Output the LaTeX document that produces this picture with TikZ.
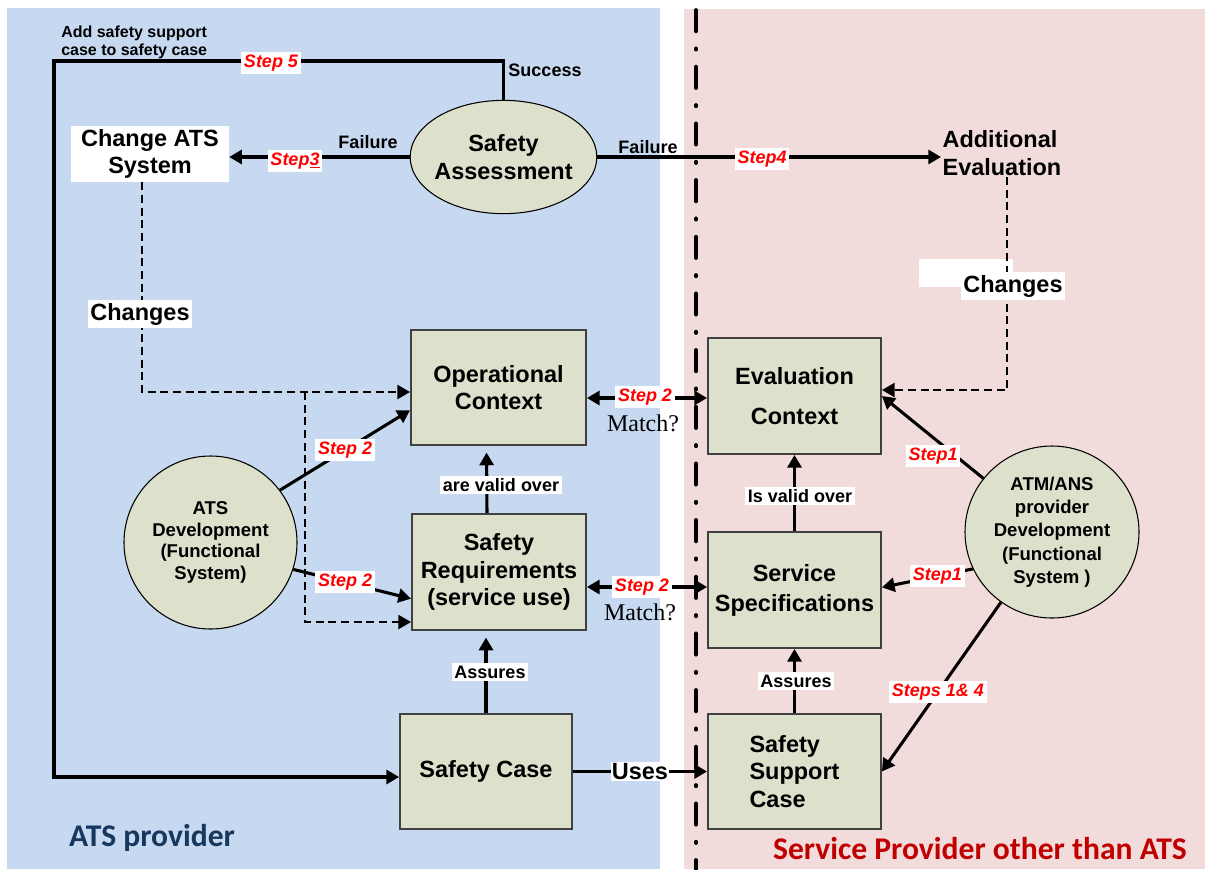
\documentclass[tikz,border=0pt]{standalone}
\usepackage{fontspec}
\setmainfont{Liberation Sans}
\newfontfamily\matchfont{Liberation Serif}
\newfontfamily\regionfont{Carlito}
\usetikzlibrary{shapes.geometric,arrows.meta}

\definecolor{atsblue}{HTML}{C6D9F0}
\definecolor{sppink}{HTML}{F2DCDB}
\definecolor{nodefill}{HTML}{DDE0CB}
\definecolor{boxline}{HTML}{404040}
\definecolor{stepred}{HTML}{FF0000}
\definecolor{atstitle}{HTML}{17375E}
\definecolor{sptitle}{HTML}{C00000}

\tikzset{
  >={Triangle[length=9.5pt,width=10.5pt]},
  bigfont/.style={font=\fontsize{17.6}{20.5}\selectfont\bfseries},
  box/.style={draw=boxline, line width=1.4pt, fill=nodefill, inner sep=0pt, align=center, bigfont},
  bubble/.style={ellipse, draw=black, line width=0.8pt, fill=nodefill, inner sep=0pt, align=center},
  conn/.style={line width=2.3pt, ->},
  dconn/.style={line width=1.6pt, dash pattern=on 6pt off 3.5pt, ->},
  steplbl/.style={fill=white, text=stepred, font=\fontsize{13.5}{15}\selectfont\bfseries\itshape, inner sep=2pt},
  smalllbl/.style={fill=white, font=\fontsize{13.5}{15}\selectfont\bfseries, inner sep=2pt},
  plainlbl/.style={font=\fontsize{13.5}{15}\selectfont\bfseries, inner sep=0pt},
  matchlbl/.style={font=\matchfont\fontsize{18}{20}\selectfont, inner sep=0pt},
  regionlbl/.style={font=\regionfont\fontsize{23.7}{26}\selectfont\bfseries, inner sep=0pt},
}

\begin{document}
\begin{tikzpicture}[x=0.75pt,y=-0.75pt]
\useasboundingbox (0,0) rectangle (1206,869);

% provider regions and their boundary
\fill[white] (0,0) rectangle (1206,869);
\fill[atsblue] (7,8) rectangle (660,869);
\fill[sppink] (684,9) rectangle (1205,869);
\draw[line width=2.8pt, line cap=round, dash pattern=on 16pt off 12.75pt on 1pt off 12.75pt] (696,10) -- (696,869);

% nodes
\node[bubble, minimum width=140pt, minimum height=85pt, inner xsep=-3pt, bigfont] (sa) at (503.5,157) {Safety\\Assessment};
\node[fill=white, minimum width=118.5pt, minimum height=42pt, inner sep=0pt, align=center, bigfont] (ca) at (150,154) {Change ATS\\System};
\node[anchor=west, align=left, bigfont, inner sep=1pt] (ae) at (941,153) {Additional\\Evaluation};

\node[box, minimum width=131.25pt, minimum height=86.25pt] (oc) at (498.5,387.5) {Operational\\Context};
\node[box, minimum width=130.5pt, minimum height=87pt] (sr) at (499,572) {Safety\\Requirements\\(service use)};
\node[box, minimum width=129.75pt, minimum height=87pt] (ec) at (794.5,396) {Evaluation\\[9.5pt]Context};
\node[box, minimum width=129.75pt, minimum height=87pt] (ss) at (794.5,590) {Service\\[2pt]Specifications};
\node[box, minimum width=129pt, minimum height=86.25pt] (sc) at (486,771.5) {Safety Case};
\node[box, minimum width=129.75pt, minimum height=86.25pt, align=left] (ssc) at (794.5,771.5) {Safety\\Support\\Case};

\node[bubble, minimum size=129.75pt, font=\fontsize{13.9}{16.3}\selectfont\bfseries] (ats) at (210.5,542.5) {ATS\\Development\\(Functional\\System)};
\node[bubble, minimum width=130.5pt, minimum height=129pt, font=\fontsize{13.9}{17.4}\selectfont\bfseries] (atm) at (1052,532) {ATM/ANS\\provider\\Development\\(Functional\\System )};

% success loop back to the safety case
\coordinate (tr) at (503.5,61);
\coordinate (tl) at (54,61);
\coordinate (bl) at (54,777);
\draw[conn] (sa.north) -- (tr) -- (tl) -- (bl) -- (bl -| sc.west);
\node[steplbl] (st5) at (271,63) {Step 5};
\node[plainlbl] (succ) at (545,70) {Success};
\node[anchor=west, align=left, font=\fontsize{12}{13.5}\selectfont\bfseries, inner sep=0pt] (addnote) at (61,42.5) {Add safety support\\case to safety case};

% failure branches
\draw[conn] (sa.west) -- (sa.west -| ca.east);
\node[steplbl] (st3) at (295,161) {Step\underline{3}};
\node[plainlbl] (f1) at (368,142) {Failure};

\draw[conn] (sa.east) -- (sa.east -| ae.west);
\node[plainlbl] (f2) at (648,147) {Failure};
\node[steplbl] (st4) at (762,159) {Step4};

% changes fed back into the contexts
\fill[white] (919,259) rectangle (1013,287);
\coordinate (rc) at (1007,390);
\draw[dconn] (ae.south -| rc) -- (rc) -- (rc -| ec.east);
\node[fill=white, inner sep=2pt, bigfont] (ch2) at (1013,286) {Changes};

\coordinate (lc) at (142,392);
\draw[dconn] (ca.south -| lc) -- (lc) -- (lc -| oc.west);
\coordinate (bj) at (305,392);
\coordinate (bb) at (305,622);
\draw[dconn] (bj) -- (bb) -- (bb -| sr.west);
\node[fill=white, inner sep=2pt, bigfont] (ch1) at (140,314) {Changes};

% ATS development
\draw[conn] (ats.37) -- ([yshift=-17pt]oc.west) node[steplbl, pos=0.5] (st2a) {Step 2};
\draw[conn] (ats.-18) -- ([yshift=-20pt]sr.west) node[steplbl, pos=0.44] (st2b) {Step 2};

\draw[conn, shorten >=5pt] ([xshift=-9pt]sr.north) -- ([xshift=-9pt]oc.south);
\node[smalllbl] (avo) at (501,485) {are valid over};

% matching between the two providers
\coordinate (m1) at (645,398);
\draw[line width=2.3pt, <->] (m1 -| oc.east) -- (m1 -| ec.west);
\node[steplbl] (st2c) at (645,397) {Step 2};
\node[matchlbl] (mt1) at (643,423) {Match?};

\coordinate (m2) at (642,587);
\draw[line width=2.3pt, <->] (m2 -| sr.east) -- (m2 -| ss.west);
\node[steplbl] (st2d) at (642,587) {Step 2};
\node[matchlbl] (mt2) at (640,612) {Match?};

% service provider side
\draw[conn] (ss.north) -- (ec.south);
\node[smalllbl] (ivo) at (800,496) {Is valid over};

\draw[conn] (atm.142) -- (ec.east);
\node[steplbl] (st1a) at (933,456) {Step1};
\draw[conn] (atm.205) -- ([yshift=2pt]ss.east) node[steplbl, pos=0.39] (st1b) {Step1};
\draw[conn] (atm.234) -- (ssc.east) node[steplbl, pos=0.53] (st14) {Steps 1\& 4};

% assurance
\draw[conn, shorten >=5pt] (sc.north) -- (sc.north |- sr.south);
\node[smalllbl] (as1) at (490,672) {Assures};
\draw[conn] (ssc.north) -- (ss.south);
\node[smalllbl] (as2) at (796,681) {Assures};

\draw[line width=2.8pt, ->] (sc.east) -- (ssc.west) node[midway, fill=white, inner sep=1pt, bigfont] (uses) {Uses};

% region titles
\node[regionlbl, text=atstitle] (atsname) at (152,838) {ATS provider};
\node[regionlbl, text=sptitle] (spname) at (980,849) {Service Provider other than ATS};
\end{tikzpicture}
\end{document}
